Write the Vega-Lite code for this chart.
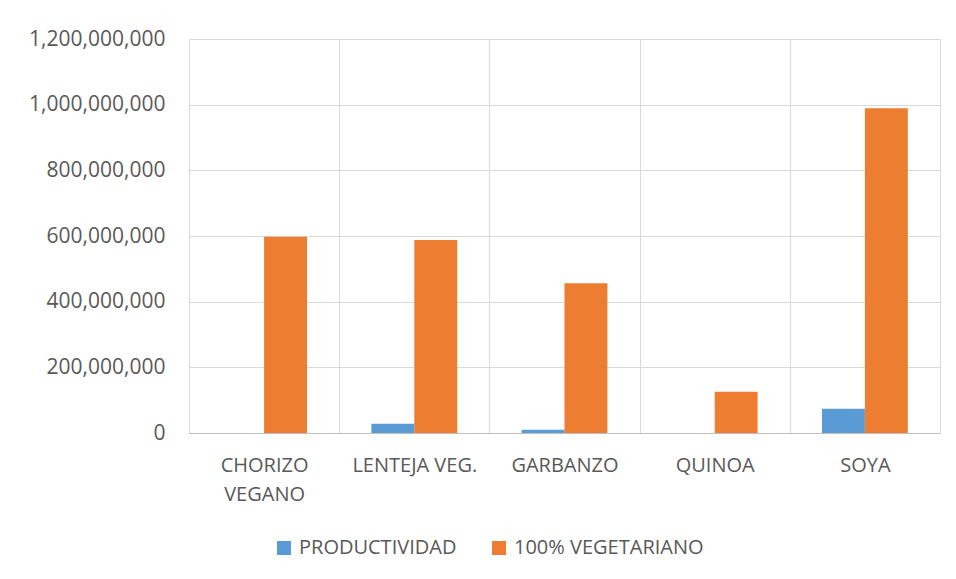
{
  "$schema": "https://vega.github.io/schema/vega-lite/v6.json",
  "width": 751,
  "height": 394,
  "autosize": {"type": "none"},
  "padding": {"left": 189, "top": 39, "right": 16, "bottom": 146},
  "background": "white",
  "data": {
    "values": [
      {"producto": "CHORIZO VEGANO", "serie": "PRODUCTIVIDAD", "valor": 0},
      {"producto": "CHORIZO VEGANO", "serie": "100% VEGETARIANO", "valor": 598000000},
      {"producto": "LENTEJA VEG.", "serie": "PRODUCTIVIDAD", "valor": 28000000},
      {"producto": "LENTEJA VEG.", "serie": "100% VEGETARIANO", "valor": 588000000},
      {"producto": "GARBANZO", "serie": "PRODUCTIVIDAD", "valor": 10000000},
      {"producto": "GARBANZO", "serie": "100% VEGETARIANO", "valor": 456000000},
      {"producto": "QUINOA", "serie": "PRODUCTIVIDAD", "valor": 0},
      {"producto": "QUINOA", "serie": "100% VEGETARIANO", "valor": 126000000},
      {"producto": "SOYA", "serie": "PRODUCTIVIDAD", "valor": 74000000},
      {"producto": "SOYA", "serie": "100% VEGETARIANO", "valor": 989000000}
    ]
  },
  "mark": {"type": "bar"},
  "encoding": {
    "x": {
      "field": "producto",
      "type": "nominal",
      "sort": ["CHORIZO VEGANO", "LENTEJA VEG.", "GARBANZO", "QUINOA", "SOYA"],
      "scale": {"paddingInner": 0, "paddingOuter": 0},
      "axis": {
        "title": null,
        "tickBand": "extent",
        "ticks": false,
        "grid": true,
        "gridColor": "#d9d9d9",
        "domainColor": "#bfbfbf",
        "labelAngle": 0,
        "labelPadding": 22,
        "labelFontSize": 20,
        "labelColor": "#595959",
        "labelLineHeight": 29,
        "labelExpr": "datum.label == 'CHORIZO VEGANO' ? ['CHORIZO', 'VEGANO'] : datum.label"
      }
    },
    "xOffset": {
      "field": "serie",
      "sort": ["PRODUCTIVIDAD", "100% VEGETARIANO"],
      "scale": {"paddingInner": 0, "paddingOuter": 0.75}
    },
    "y": {
      "field": "valor",
      "type": "quantitative",
      "scale": {"domain": [0, 1200000000]},
      "axis": {
        "title": null,
        "values": [0, 200000000, 400000000, 600000000, 800000000, 1000000000, 1200000000],
        "format": ",d",
        "domain": false,
        "ticks": false,
        "grid": true,
        "gridColor": "#d9d9d9",
        "labelPadding": 24,
        "labelFontSize": 21,
        "labelColor": "#595959"
      }
    },
    "color": {
      "field": "serie",
      "type": "nominal",
      "sort": ["PRODUCTIVIDAD", "100% VEGETARIANO"],
      "scale": {"range": ["#5B9BD5", "#ED7D31"]},
      "legend": {
        "title": null,
        "orient": "none",
        "direction": "horizontal",
        "legendX": 85,
        "legendY": 499,
        "symbolType": "square",
        "symbolSize": 196,
        "symbolStrokeWidth": 0,
        "labelFontSize": 20,
        "labelColor": "#595959",
        "labelOffset": 5,
        "labelLimit": 400,
        "columnPadding": 32
      }
    }
  },
  "config": {
    "font": "Open Sans",
    "view": {"stroke": "#d9d9d9"}
  }
}
